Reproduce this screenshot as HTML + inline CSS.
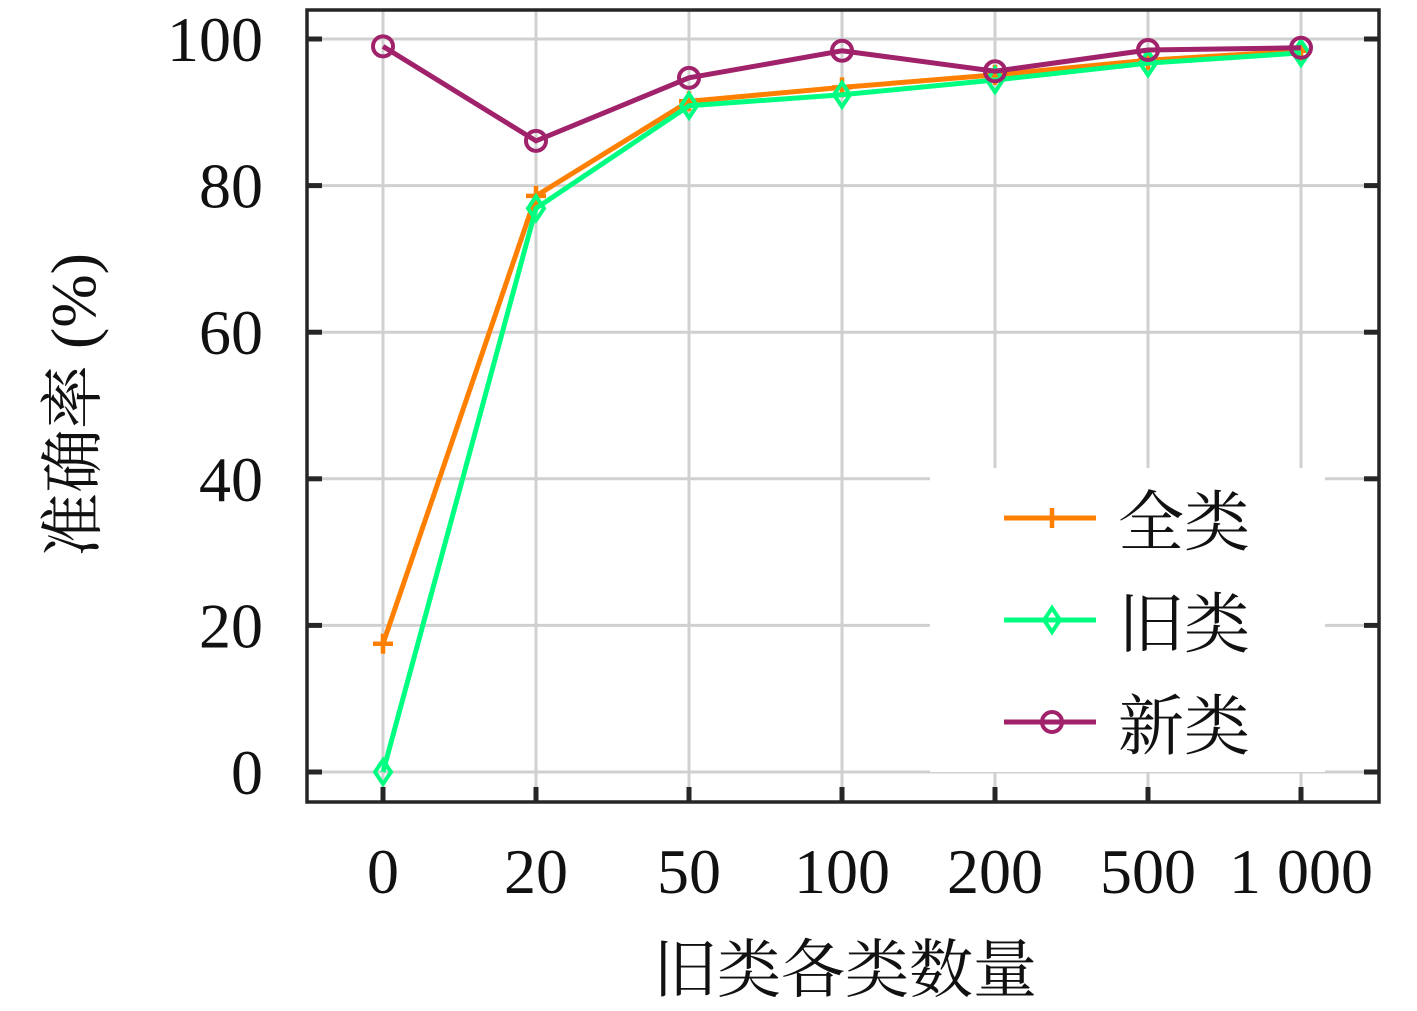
<!DOCTYPE html>
<html><head><meta charset="utf-8"><style>
html,body{margin:0;padding:0;background:#fff;}
svg text{font-family:"Liberation Serif","Noto Serif CJK SC",serif;fill:#111;}
</style></head><body>
<svg id="chart" width="1417" height="1006" xmlns="http://www.w3.org/2000/svg">
<g id="grid"></g>
<g id="series"></g>
<rect x="930" y="468" width="395" height="304" fill="#fff"/>
<rect x="307" y="10" width="1072" height="792" fill="none" stroke="#262626" stroke-width="3.5"/>
<g id="ticks"></g>
<g id="legend"></g>
<text x="845" y="992" font-size="64" text-anchor="middle">旧类各类数量</text>
<text transform="translate(95,405) rotate(-90)" font-size="64" text-anchor="middle">准确率 (%)</text>
</svg>
<script>
const categories = ["0","20","50","100","200","500","1 000"];
const yTicks = [0,20,40,60,80,100];
const seriesNames = ["全类","旧类","新类"];
const allValues = [17.5,78.6,91.5,93.4,95.1,97.1,98.4];
const oldValues = [0,76.9,90.9,92.4,94.4,96.7,98.1];
const newValues = [99.0,86.1,94.7,98.4,95.6,98.5,98.8];
const NS="http://www.w3.org/2000/svg";
const xs=i=>383+i*153;
const ys=v=>772-v*7.33;
function mk(tag,attrs,parent){const e=document.createElementNS(NS,tag);for(const k in attrs)e.setAttribute(k,attrs[k]);parent.appendChild(e);return e;}
const grid=document.getElementById('grid'),ticks=document.getElementById('ticks'),ser=document.getElementById('series'),leg=document.getElementById('legend');
categories.forEach((c,i)=>{
  const l=mk('line',{x1:xs(i),x2:xs(i),y1:10,y2:802,stroke:'#d0d0d0','stroke-width':3},grid);
  
  
  const t=mk('line',{x1:xs(i),x2:xs(i),y1:787,y2:802,stroke:'#262626','stroke-width':5},ticks);
  
  
  const tx=mk('text',{x:xs(i),y:893,'font-size':64,'text-anchor':'middle'},ticks);
  tx.textContent=c;
  
  
});
yTicks.forEach(v=>{
  const l=mk('line',{x1:307,x2:1379,y1:ys(v),y2:ys(v),stroke:'#d0d0d0','stroke-width':3},grid);
  
  
  const t=mk('line',{x1:307,x2:322,y1:ys(v),y2:ys(v),stroke:'#262626','stroke-width':5},ticks);
  
  
  const t2=mk('line',{x1:1364,x2:1379,y1:ys(v),y2:ys(v),stroke:'#262626','stroke-width':5},ticks);
  
  
  const tx=mk('text',{x:263,y:ys(v)+22,'font-size':64,'text-anchor':'end'},ticks);
  tx.textContent=v;
  
  
});
function marker(type,x,y,color,parent){
  let m;
  if(type==='plus') m=mk('path',{d:`M${x-10},${y}H${x+10}M${x},${y-10}V${y+10}`,stroke:color,'stroke-width':4.5,fill:'none'},parent);
  else if(type==='diamond') m=mk('path',{d:`M${x},${y-12}L${x+8},${y}L${x},${y+12}L${x-8},${y}Z`,stroke:color,'stroke-width':4,fill:'none'},parent);
  else m=mk('circle',{cx:x,cy:y,r:10,stroke:color,'stroke-width':4,fill:'none'},parent);
  return m;
}
const defs=[[allValues,'#ff8000','plus','series-all'],[oldValues,'#00ff80','diamond','series-old'],[newValues,'#a0226a','circle','series-new']];
defs.forEach(([vals,color,mt,name])=>{
  const p=mk('polyline',{points:vals.map((v,i)=>xs(i)+','+ys(v)).join(' '),fill:'none',stroke:color,'stroke-width':5},ser);
  
  
  vals.forEach((v,i)=>{
    const m=marker(mt,xs(i),ys(v),color,ser);
    
    
  });
});
defs.forEach(([vals,color,mt,name],k)=>{
  const y=518+k*102;
  const g=mk('g',{},leg);
  
  
  mk('line',{x1:1004,x2:1096,y1:y,y2:y,stroke:color,'stroke-width':5},g);
  marker(mt,1052,y,color,g);
  const t=mk('text',{x:1118,y:y+27,'font-size':66},g);
  t.textContent=seriesNames[k];
});
</script>
</body></html>
